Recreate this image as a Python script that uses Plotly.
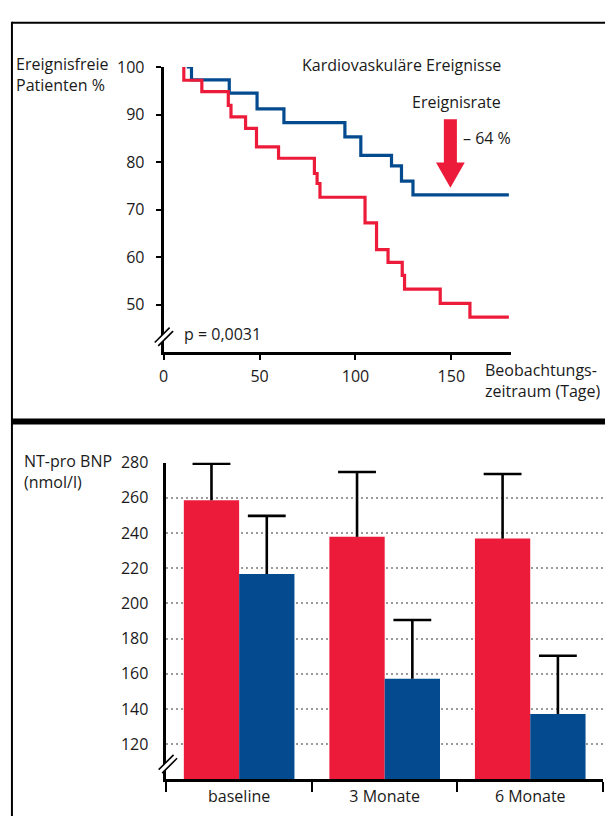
import plotly.graph_objects as go

W, H = 605, 816

# ---------------- top chart data (Kaplan-Meier) ----------------
blue_days = [12.0, 14.5, 34.2, 48.7, 62.7, 94.5, 102.8, 118.8, 124.0, 130.0, 180.0]
blue_surv = [100.0, 97.3, 94.5, 91.2, 88.3, 85.3, 81.4, 79.2, 76.0, 73.1, 73.1]
red_days = [10.5, 10.5, 19.9, 33.7, 35.1, 42.7, 48.4, 59.9, 78.6, 80.0, 81.5,
            105.0, 111.0, 117.0, 124.4, 125.6, 144.2, 159.7, 180.0]
red_surv = [100.0, 97.2, 94.8, 91.9, 89.5, 87.1, 83.2, 80.8, 77.6, 75.5, 72.6,
            67.2, 61.6, 58.9, 56.2, 53.3, 50.3, 47.4, 47.4]
top_xticks = [0, 50, 100, 150]
top_yticks = [50, 60, 70, 80, 90, 100]

# ---------------- bottom chart data ----------------
categories = ["baseline", "3 Monate", "6 Monate"]
red_means = [258.6, 237.8, 236.8]
red_err = [20.7, 36.8, 36.7]
blue_means = [216.7, 157.2, 137.2]
blue_err = [33.0, 33.4, 33.1]
bottom_yticks = [120, 140, 160, 180, 200, 220, 240, 260, 280]

RED = "#ED1B3A"
BLUE = "#034B8E"
FONT = "Open Sans"
FS = 16
TXT = "#1a1a1a"


def px(x):
    return x / W


def py(y):
    return 1 - y / H


fig = go.Figure()

# top KM curves
fig.add_trace(go.Scatter(x=blue_days, y=blue_surv, mode="lines", line=dict(color=BLUE, width=3.2, shape="hv"),
                         xaxis="x", yaxis="y", hoverinfo="skip"))
fig.add_trace(go.Scatter(x=red_days, y=red_surv, mode="lines", line=dict(color=RED, width=3.2, shape="hv"),
                         xaxis="x", yaxis="y", hoverinfo="skip"))

# bottom bars
idx = list(range(len(categories)))
BW = 0.38
fig.add_trace(go.Bar(x=idx, y=red_means, width=BW, offset=-BW, marker=dict(color=RED, line=dict(width=0)),
                     xaxis="x2", yaxis="y2", hoverinfo="skip"))
fig.add_trace(go.Bar(x=idx, y=blue_means, width=BW, offset=0, marker=dict(color=BLUE, line=dict(width=0)),
                     xaxis="x2", yaxis="y2", hoverinfo="skip"))


def err_xy(centers, vals, errs, half):
    xs, ys = [], []
    for c, v, e in zip(centers, vals, errs):
        xs += [c, c, None, c - half, c + half, None]
        ys += [v, v + e, None, v + e, v + e, None]
    return xs, ys


CAP = 0.13
ex, ey = err_xy([i - BW / 2 for i in idx], red_means, red_err, CAP)
fig.add_trace(go.Scatter(x=ex, y=ey, mode="lines", line=dict(color="black", width=2.6),
                         xaxis="x2", yaxis="y2", hoverinfo="skip"))
ex, ey = err_xy([i + BW / 2 for i in idx], blue_means, blue_err, CAP)
fig.add_trace(go.Scatter(x=ex, y=ey, mode="lines", line=dict(color="black", width=2.6),
                         xaxis="x2", yaxis="y2", hoverinfo="skip"))

tickfont = dict(family=FONT, size=FS, color=TXT)

fig.update_layout(
    width=W, height=H,
    margin=dict(l=0, r=0, t=0, b=0),
    paper_bgcolor="white", plot_bgcolor="white",
    showlegend=False,
    barmode="overlay",
    font=dict(family=FONT, size=FS, color=TXT),
    xaxis=dict(domain=[px(160), px(510)], range=[0, 181], anchor="y",
               tickvals=top_xticks, ticks="outside", ticklen=5, tickwidth=2, tickcolor="black",
               showline=True, linewidth=3, linecolor="black", showgrid=False, zeroline=False,
               tickfont=tickfont, ticklabelstandoff=2),
    yaxis=dict(domain=[py(346), py(56.7)], range=[40, 100], anchor="x",
               tickvals=top_yticks, ticks="outside", ticklen=5, tickwidth=2, tickcolor="black",
               showline=True, linewidth=3, linecolor="black", showgrid=False, zeroline=False,
               tickfont=tickfont, ticklabelstandoff=8),
    xaxis2=dict(domain=[px(162.7), px(603)], range=[-0.5, 2.5], anchor="y2",
                tickvals=idx, ticktext=categories, ticks="",
                minor=dict(tickvals=[-0.5, 0.5, 1.5, 2.5], ticks="outside", ticklen=10, tickwidth=2,
                           tickcolor="black", showgrid=False),
                showline=True, linewidth=3, linecolor="black", showgrid=False, zeroline=False,
                tickfont=tickfont),
    yaxis2=dict(domain=[py(779), py(457.7)], range=[100, 280], anchor="x2",
                tickvals=bottom_yticks, ticks="",
                showline=True, linewidth=2.5, linecolor="black",
                showgrid=True, gridcolor="#9a9a9a", gridwidth=1.6, griddash="2px,3px", zeroline=False,
                tickfont=tickfont, ticklabelstandoff=12),
)

ann = []


def text(x, y, t, anchor="left"):
    ann.append(dict(x=px(x), y=py(y), xref="paper", yref="paper", text=t, showarrow=False,
                    xanchor=anchor, yanchor="middle", align="left", borderpad=0,
                    font=dict(family=FONT, size=FS, color=TXT)))


text(10, 64.5, "Ereignisfreie<br>Patienten %")
text(298, 55, "Kardiovaskuläre Ereignisse")
text(409, 92, "Ereignisrate")
text(461, 129, "– 64 %")
text(179, 327, "p = 0,0031")
text(483, 374.5, "Beobachtungs-<br>zeitraum (Tage)")
text(18, 466.5, "NT-pro BNP<br>(nmol/l)")
fig.update_layout(annotations=ann)

shapes = []
# frame
shapes.append(dict(type="line", xref="paper", yref="paper", x0=px(7), x1=px(606), y0=py(12), y1=py(12),
                   line=dict(color="black", width=2)))
shapes.append(dict(type="line", xref="paper", yref="paper", x0=px(7), x1=px(7), y0=py(11), y1=py(817),
                   line=dict(color="black", width=2)))
shapes.append(dict(type="line", xref="paper", yref="paper", x0=px(7), x1=px(606), y0=py(416), y1=py(416),
                   line=dict(color="black", width=6)))

# red arrow (data coords of top chart)
ax_, sh, hh, top_, neck, tip = 149.5, 3.4, 7.5, 89.0, 79.9, 74.6
shapes.append(dict(type="path", xref="x", yref="y",
                   path=f"M{ax_-sh},{top_} L{ax_+sh},{top_} L{ax_+sh},{neck} L{ax_+hh},{neck} "
                        f"L{ax_},{tip} L{ax_-hh},{neck} L{ax_-sh},{neck} Z",
                   fillcolor=RED, line=dict(width=0)))


def brk(x1, y1, x2, y2, d):
    # white gap + two slashes, pixel coordinates
    shapes.append(dict(type="path", xref="paper", yref="paper",
                       path=f"M{px(x1)},{py(y1)} L{px(x2)},{py(y2)} L{px(x2+d)},{py(y2+d)} L{px(x1+d)},{py(y1+d)} Z",
                       fillcolor="white", line=dict(width=0)))
    for o in (0, d):
        shapes.append(dict(type="line", xref="paper", yref="paper",
                           x0=px(x1 + o), y0=py(y1 + o), x1=px(x2 + o), y1=py(y2 + o),
                           line=dict(color="black", width=1.6)))


brk(151, 336, 166, 321, 3.5)
brk(155, 769, 170, 754, 3.5)
fig.update_layout(shapes=shapes)

fig.write_html("out.html", config={"displayModeBar": False},
               post_script="document.body.style.margin='0';")
